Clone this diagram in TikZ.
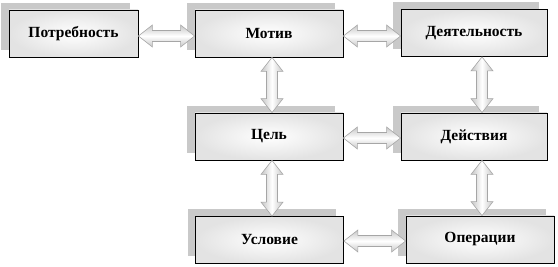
\documentclass[tikz,border=0pt]{standalone}
\usepackage{fontspec}
\setmainfont{Liberation Serif}
\usetikzlibrary{calc,shadows}
\begin{document}
\begin{tikzpicture}[x=1pt,y=-1pt,
  box/.style={draw=black,line width=0.8pt,inner color=white,outer color=gray!22,
    minimum width=148pt,minimum height=47pt,font=\bfseries\fontsize{15.5}{17}\selectfont,
    drop shadow={shadow xshift=-8pt,shadow yshift=7pt,fill=gray!42,opacity=1}},
  harrow/.style={draw=gray!70,line width=0.6pt,top color=gray!45,bottom color=gray!45,middle color=white},
  varrow/.style={draw=gray!70,line width=0.6pt,left color=gray!45,right color=gray!45,middle color=white}]
\fill[white] (0,0) rectangle (558,267);
\useasboundingbox (0,0) rectangle (558,267);
\def\hl{14}\def\hw{11}\def\sw{5.5}
\newcommand\harr[2]{\draw[harrow] (#1) -- ($(#1)+(\hl,-\hw)$) -- ($(#1)+(\hl,-\sw)$) -- ($(#2)+(-\hl,-\sw)$) -- ($(#2)+(-\hl,-\hw)$) -- (#2) -- ($(#2)+(-\hl,\hw)$) -- ($(#2)+(-\hl,\sw)$) -- ($(#1)+(\hl,\sw)$) -- ($(#1)+(\hl,\hw)$) -- cycle;}
\newcommand\varr[2]{\draw[varrow] (#1) -- ($(#1)+(\hw,\hl)$) -- ($(#1)+(\sw,\hl)$) -- ($(#2)+(\sw,-\hl)$) -- ($(#2)+(\hw,-\hl)$) -- (#2) -- ($(#2)+(-\hw,-\hl)$) -- ($(#2)+(-\sw,-\hl)$) -- ($(#1)+(-\sw,\hl)$) -- ($(#1)+(-\hw,\hl)$) -- cycle;}
\node[box,minimum width=129pt] (potr) at (73.5,33.5) {Потребность};
\node[box] (motiv) at (269,33.5) {Мотив};
\node[box,minimum width=146pt] (deyat) at (474,33) {Деятельность};
\node[box] (cel) at (269,136.5) {Цель};
\node[box,minimum width=146pt] (deystv) at (474,136.5) {Действия};
\node[box] (uslov) at (269.5,240) {Условие};
\node[box] (oper) at (480,239.5) {Операции};
\harr{potr.east |- 0,36}{motiv.west |- 0,36}
\harr{motiv.east |- 0,36}{deyat.west |- 0,36}
\harr{cel.east |- 0,138}{deystv.west |- 0,138}
\harr{uslov.east |- 0,241}{oper.west |- 0,241}
\varr{motiv.south -| 272,0}{cel.north -| 272,0}
\varr{cel.south -| 272,0}{uslov.north -| 272,0}
\varr{deyat.south -| 482,0}{deystv.north -| 482,0}
\varr{deystv.south -| 482,0}{oper.north -| 482,0}
\end{tikzpicture}
\end{document}
